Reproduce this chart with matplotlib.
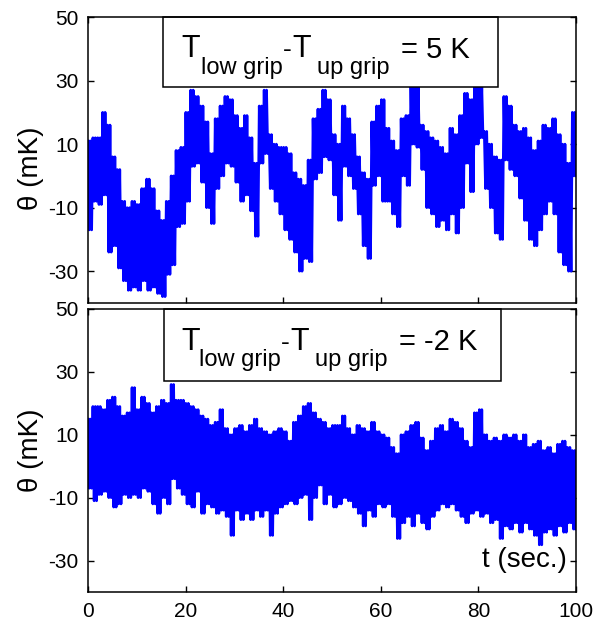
import numpy as np
import matplotlib
matplotlib.use("Agg")
from matplotlib import pyplot as plt
from matplotlib.patches import Rectangle

plt.rcParams["font.family"] = ["Liberation Sans", "DejaVu Sans"]
plt.rcParams["axes.unicode_minus"] = False

# 1-second bins, 0..99 s: upper and lower extremes of the trace (mK)
top_hi = [11, 12, 12, 20, 16, 6, 2, -8, -10, -8,
          -9, -4, -1, -4, -11, -14, -8, 0, 8, 9,
          20, 27, 25, 22, 17, 7, 18, 22, 25, 24,
          19, 15, 19, 12, 4, 22, 27, 13, 10, 9,
          9, 7, 1, -1, -3, 5, 18, 21, 27, 24,
          13, 10, 22, 18, 13, 6, 1, -1, 17, 22,
          24, 15, 11, 8, 18, 19, 28, 28, 16, 14,
          12, 11, 9, 7, 15, 13, 19, 26, 24, 28,
          28, 14, 10, 6, 5, 25, 22, 16, 14, 15,
          12, 8, 11, 16, 15, 18, 13, 10, 4, 20]
top_lo = [-17, -8, -9, -6, -24, -22, -29, -33, -36, -35,
          -36, -33, -36, -35, -37, -38, -31, -28, -16, -15,
          -8, 3, 4, -2, -10, -15, -4, 0, 4, 3,
          -2, -8, -6, -11, -19, 4, 7, -4, -8, -12,
          -17, -20, -24, -30, -26, -27, -1, 1, 6, 5,
          -6, -14, 3, 0, -4, -12, -22, -26, -3, 0,
          -8, -8, -12, -16, 0, -3, 10, 9, 2, -10,
          -12, -16, -14, -17, -12, -18, -10, 4, -5, 10,
          12, -4, -10, -18, -20, 5, 2, 0, -7, -14,
          -20, -22, -17, -12, -8, -12, -24, -28, -30, 0]

bot_hi = [15, 19, 19, 18, 21, 22, 19, 16, 17, 25,
          18, 22, 20, 17, 19, 21, 20, 26, 21, 21,
          20, 19, 18, 16, 15, 13, 14, 18, 12, 10,
          12, 13, 11, 13, 15, 12, 11, 10, 11, 12,
          11, 8, 14, 16, 19, 20, 17, 15, 14, 12,
          13, 13, 16, 12, 10, 13, 12, 11, 14, 11,
          10, 9, 6, 4, 10, 11, 13, 14, 9, 5,
          8, 12, 13, 11, 15, 14, 12, 8, 6, 17,
          18, 10, 8, 9, 8, 10, 9, 10, 8, 10,
          6, 7, 8, 5, 6, 4, 7, 8, 6, 5]
bot_lo = [-7, -11, -9, -8, -10, -13, -12, -9, -10, -9,
          -10, -7, -8, -12, -15, -10, -12, -4, -7, -9,
          -12, -13, -8, -15, -12, -13, -15, -14, -16, -22,
          -14, -17, -15, -17, -14, -16, -14, -22, -15, -13,
          -12, -11, -12, -10, -9, -17, -10, -6, -12, -9,
          -13, -12, -10, -11, -13, -15, -19, -14, -16, -12,
          -13, -12, -16, -23, -18, -16, -19, -15, -18, -20,
          -16, -14, -12, -13, -12, -14, -16, -18, -15, -14,
          -16, -15, -18, -17, -23, -19, -20, -18, -21, -18,
          -20, -22, -25, -21, -20, -22, -19, -21, -18, -20]

y_ticks = [-30, -10, 10, 30, 50]
x_ticks = [0, 20, 40, 60, 80, 100]

W, H = 597, 630
fig = plt.figure(figsize=(W / 100, H / 100), dpi=100)
ax1 = fig.add_axes([88 / W, 1 - 303 / H, 488 / W, 286 / H])
ax2 = fig.add_axes([88 / W, 1 - 592 / H, 488 / W, 283 / H])


def trace(hi, lo):
    # each 1 s bin drawn as two up/down swings between its extremes
    y = np.column_stack([hi, lo, hi, lo]).ravel()
    t = np.linspace(0, 100, len(y))
    return t, y


for ax, hi, lo in [(ax1, top_hi, top_lo), (ax2, bot_hi, bot_lo)]:
    t, y = trace(hi, lo)
    ax.plot(t, y, color=(0, 0, 1), lw=1.9, zorder=2)
    ax.set_xlim(0, 100)
    ax.set_ylim(-40, 50)
    ax.set_yticks(y_ticks)
    ax.set_xticks(x_ticks)
    ax.tick_params(direction="in", top=True, right=True, length=4,
                   width=1, labelsize=15, pad=7, colors="black")
    for s in ax.spines.values():
        s.set_linewidth(1.1)
        s.set_zorder(5)
ax1.set_xticklabels([])


def ax_xy(ax, px, py):
    # pixel position in the picture -> axes fraction
    bb = ax.get_position()
    return (px / W - bb.x0) / bb.width, ((1 - py / H) - bb.y0) / bb.height


def label_box(ax, box, pieces):
    x0, y0 = ax_xy(ax, box[0], box[3])
    x1, y1 = ax_xy(ax, box[2], box[1])
    ax.add_patch(Rectangle((x0, y0), x1 - x0, y1 - y0, transform=ax.transAxes,
                           facecolor="white", edgecolor="black", lw=1.1,
                           zorder=3, clip_on=False))
    for s, px, py, size in pieces:
        x, y = ax_xy(ax, px, py)
        ax.text(x, y, s, transform=ax.transAxes, fontsize=size,
                ha="left", va="baseline", zorder=4)


label_box(ax1, (163, 17, 498, 87), [
    ("T", 181, 57, 22), ("low grip", 201, 74, 17), ("-", 283, 57, 19),
    ("T", 292, 57, 22), ("up grip", 317, 74, 17), ("= 5 K", 401, 58, 21)])
label_box(ax2, (164, 309, 501, 381), [
    ("T", 181, 350, 22), ("low grip", 199, 366, 17), ("-", 281, 350, 19),
    ("T", 290, 350, 22), ("up grip", 315, 366, 17), ("= -2 K", 399, 350, 21)])

fig.text(31 / W, 1 - 168 / H, "θ (mK)", rotation=90, ha="center", va="center",
         fontsize=20)
fig.text(31 / W, 1 - 450 / H, "θ (mK)", rotation=90, ha="center", va="center",
         fontsize=20)
x, y = ax_xy(ax2, 567, 567)
ax2.text(x, y, "t (sec.)", transform=ax2.transAxes, ha="right", va="baseline",
         fontsize=20, zorder=4)

fig.savefig("out.png", dpi=100)
